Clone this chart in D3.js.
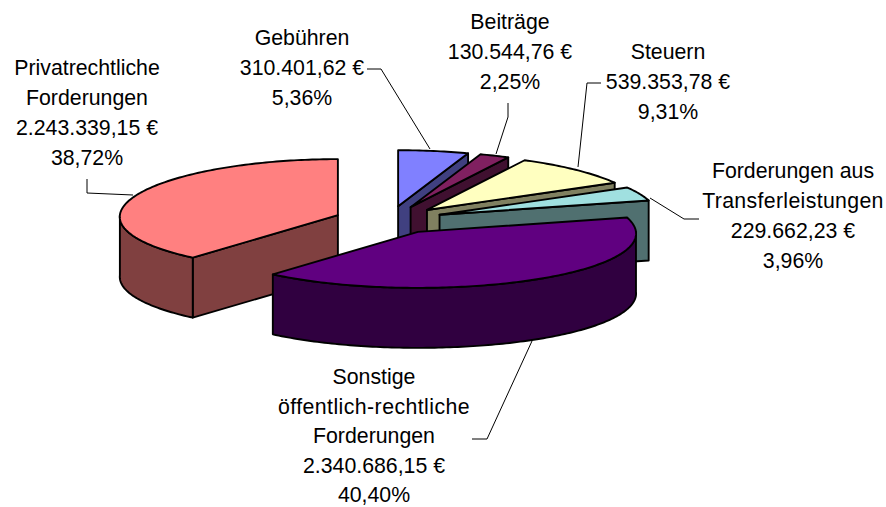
<!DOCTYPE html>
<html><head><meta charset="utf-8">
<script src="https://cdn.jsdelivr.net/npm/d3@7"></script>
<style>html,body{margin:0;padding:0;background:#fff}svg{display:block}text{font-family:"Liberation Sans",Arial,sans-serif;font-size:21.3px;fill:#000;text-anchor:middle}</style>
</head><body><svg id="c" width="886" height="507"></svg>
<script>
const categories=["Gebühren","Beiträge","Steuern","Forderungen aus Transferleistungen","Sonstige öffentlich-rechtliche Forderungen","Privatrechtliche Forderungen"];
const values=[310401.62,130544.76,539353.78,229662.23,2340686.15,2243339.15];
const labelLines=[["Gebühren"],["Beiträge"],["Steuern"],["Forderungen aus","Transferleistungen"],["Sonstige","öffentlich-rechtliche","Forderungen"],["Privatrechtliche","Forderungen"]];
const topColors=["#8080ff","#802060","#ffffc0","#a0e0e0","#600080","#ff8080"];
const sideColors=["#404080","#401030","#808060","#507070","#300040","#804040"];

// layout
const centre={x:389,y:220},radiusX=218,radiusY=56,depth=60,explode=0.25,persp=0.03;
const labelAnchors=[[302,45],[510,29],[668,59],[793,178],[374,384],[87,75]];
const labelLineH=[30,30,30,30,29.5,30];
const wideLines={"Transferleistungen":0.33,"öffentlich-rechtliche":0.43};
const leaders=[
 [[367,69],[381,69],[430,149]],
 [[508,103],[508,117],[496,154]],
 [[601,83],[587,83],[578,167]],
 [[650,198],[684,219],[699,219]],
 [[532,341],[487,439],[472,439]],
 [[87,179],[87,193],[133,195]]];

const loc=d3.formatLocale({decimal:",",thousands:".",grouping:[3],currency:["","\u00a0€"]});
const money=loc.format(",.2f"),pct=loc.format(".2f");
const total=d3.sum(values);

const svg=d3.select("#c");
const sx=d3.scaleLinear().domain([-1,1]).range([centre.x-radiusX,centre.x+radiusX]);
const sy=d3.scaleLinear().domain([-1,1]).range([centre.y-radiusY,centre.y+radiusY]);
const pie=d3.pie().sort(null).value(d=>d).startAngle(0).endAngle(2*Math.PI);
const line=d3.line().x(d=>d[0]).y(d=>d[1]);

const arcs=pie(values);
// paint order: back slices first, the big front slice last
const order=[0,1,2,3,5,4];
const root=svg.append("g");

// slight perspective: the near part of the rim is drawn a little wider
const rimPoint=(a,ox,oy,dz)=>[sx(ox+Math.sin(a)*(1-persp*Math.cos(a))),sy(oy-Math.cos(a))+dz];
function rim(a0,a1,ox,oy,dz){
  const n=Math.max(2,Math.ceil(Math.abs(a1-a0)/(Math.PI/180))),pts=[];
  for(let i=0;i<=n;i++)pts.push(rimPoint(a0+(a1-a0)*i/n,ox,oy,dz));
  return pts;
}
const face=(g,pts,fill)=>g.append("path").attr("d",line(pts)+"Z")
  .attr("fill",fill).attr("stroke","#000").attr("stroke-width",1.9).attr("stroke-linejoin","round");

order.forEach(i=>{
  const d=arcs[i],mid=(d.startAngle+d.endAngle)/2;
  const ox=explode*Math.sin(mid),oy=-explode*Math.cos(mid);
  const g=root.append("g").datum(d);
  const apex=[sx(ox),sy(oy)];
  const wall=a=>{const p=rimPoint(a,ox,oy,0);
    face(g,[apex,p,[p[0],p[1]+depth],[apex[0],apex[1]+depth]],sideColors[i]);};
  // only walls that face the viewer
  if(Math.sin(d.startAngle)<-1e-9)wall(d.startAngle);
  if(Math.sin(d.endAngle)>1e-9)wall(d.endAngle);
  // curved outer wall, front half only
  const a0=Math.max(d.startAngle,Math.PI/2),a1=Math.min(d.endAngle,3*Math.PI/2);
  if(a1>a0)face(g,rim(a0,a1,ox,oy,0).concat(rim(a1,a0,ox,oy,depth)),sideColors[i]);
  // top
  face(g,[apex].concat(rim(d.startAngle,d.endAngle,ox,oy,0)),topColors[i]);
});

// leaders
svg.append("g").selectAll("path").data(leaders).join("path")
  .attr("d",d=>line(d)).attr("fill","none").attr("stroke","#000").attr("stroke-width",1);

// labels
const lab=svg.append("g").selectAll("text").data(categories).join("text")
  .attr("x",(d,i)=>labelAnchors[i][0]).attr("y",(d,i)=>labelAnchors[i][1]);
lab.each(function(d,i){
  const lines=labelLines[i].concat([money(values[i])+" €",pct(values[i]/total*100)+"%"]);
  d3.select(this).selectAll("tspan").data(lines).join("tspan")
    .attr("x",labelAnchors[i][0]).attr("dy",(s,j)=>j?labelLineH[i]:0)
    .attr("letter-spacing",s=>wideLines[s]||null).text(s=>s);
});
</script></body></html>
